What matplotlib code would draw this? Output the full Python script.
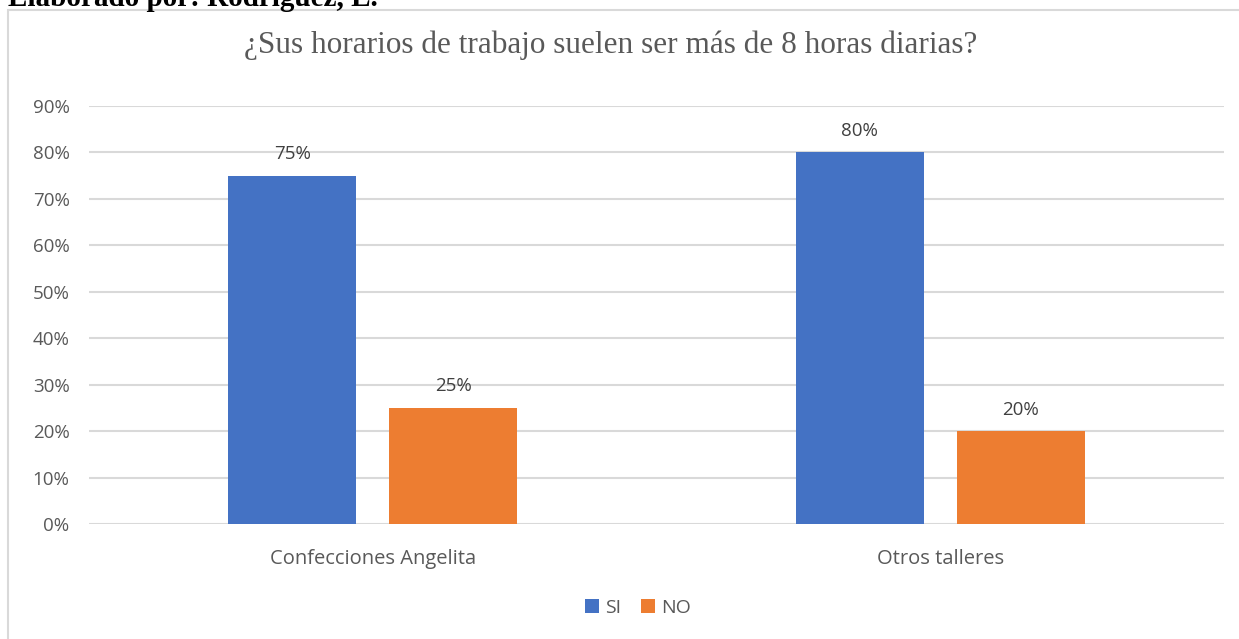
import numpy as np
import matplotlib.pyplot as plt
from matplotlib.patches import Rectangle

# data
categories = ["Confecciones Angelita", "Otros talleres"]
si_values = [75, 80]
no_values = [25, 20]
series_names = ["SI", "NO"]
title = "¿Sus horarios de trabajo suelen ser más de 8 horas diarias?"
header = "Elaborado por: Rodríguez, L."

blue = "#4472c4"
orange = "#ed7d31"
gray_text = "#595959"
grid_col = "#d9d9d9"

W, H = 1239, 639
fig = plt.figure(figsize=(W / 100, H / 100), dpi=100)

# chart frame (left + top edges visible)
fig.add_artist(Rectangle((8 / W, -0.1), 1.2, 1.1 - 10 / H, transform=fig.transFigure,
                         fill=False, edgecolor=grid_col, linewidth=1.5))

# cut-off header at the top
fig.text(8 / W, 1 - 6 / H, header, fontsize=21, fontweight="bold",
         family="Liberation Serif", color="black", va="baseline", ha="left")

fig.text(611 / W, 1 - 45 / H, title, fontsize=22.5, family="Liberation Serif",
         color=gray_text, ha="center", va="center")

ax = fig.add_axes([89 / W, 1 - 524 / H, (1224 - 89) / W, (524 - 106) / H])

x = np.arange(len(categories))
bw = 0.2255
off = 0.142
b1 = ax.bar(x - off, si_values, bw, color=blue, label=series_names[0], zorder=3)
b2 = ax.bar(x + off, no_values, bw, color=orange, label=series_names[1], zorder=3)

for bars in (b1, b2):
    for r in bars:
        ax.text(r.get_x() + r.get_width() / 2, r.get_height() + 2.7, f"{r.get_height():.0f}%",
                ha="center", va="bottom", fontsize=13.5, color="#404040", family="Open Sans")

ax.set_xlim(-0.5, 1.5)
ax.set_ylim(0, 90)
ax.set_yticks(range(0, 91, 10))
ax.set_yticklabels([f"{v}%" for v in range(0, 91, 10)])
ax.set_xticks(x)
ax.set_xticklabels(categories)
ax.grid(axis="y", color=grid_col, linewidth=1.5, zorder=0)
for s in ax.spines.values():
    s.set_visible(False)
ax.tick_params(axis="y", length=0, labelsize=13.5, colors=gray_text, pad=14)
ax.tick_params(axis="x", length=0, labelsize=14.5, colors=gray_text, pad=18)
for lab in ax.get_xticklabels() + ax.get_yticklabels():
    lab.set_family("Open Sans")

leg = fig.legend(loc="center", bbox_to_anchor=(638 / W, 1 - 608 / H), ncol=2, frameon=False,
                 fontsize=14, handlelength=0.75, handleheight=0.75, handletextpad=0.3,
                 columnspacing=1.0)
for t in leg.get_texts():
    t.set_color(gray_text)
    t.set_family("Open Sans")

fig.savefig("out.png", dpi=100)
